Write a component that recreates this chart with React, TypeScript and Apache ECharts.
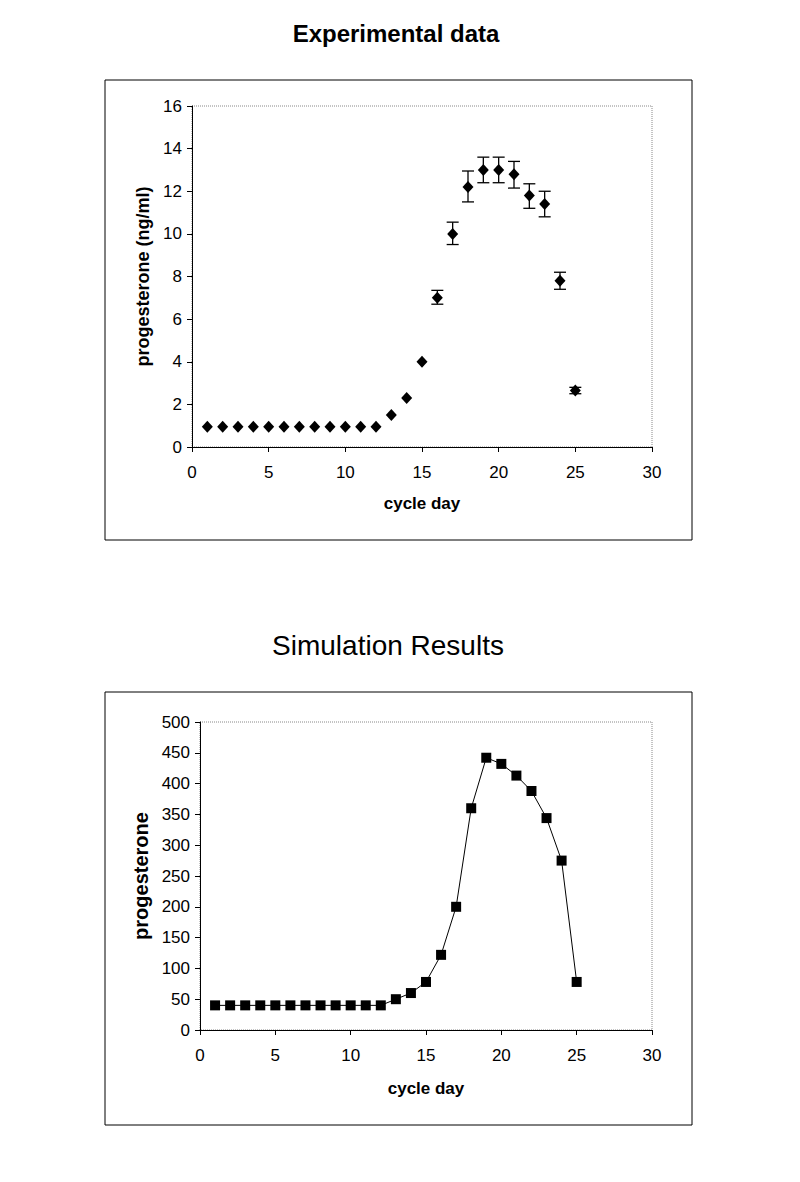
import React, { useEffect, useRef } from "react";
import * as echarts from "echarts";

const days = [1, 2, 3, 4, 5, 6, 7, 8, 9, 10, 11, 12, 13, 14, 15, 16, 17, 18, 19, 20, 21, 22, 23, 24, 25];
const expMean = [0.95, 0.95, 0.95, 0.95, 0.95, 0.95, 0.95, 0.95, 0.95, 0.95, 0.95, 0.95, 1.5, 2.3, 4.0, 7.0, 10.0, 12.2, 13.0, 13.0, 12.8, 11.8, 11.4, 7.8, 2.65];
const errDays = [16, 17, 18, 19, 20, 21, 22, 23, 24, 25];
const errLow = [6.7, 9.5, 11.5, 12.4, 12.4, 12.15, 11.2, 10.8, 7.4, 2.5];
const errHigh = [7.35, 10.55, 12.95, 13.6, 13.6, 13.4, 12.35, 12.0, 8.2, 2.8];
const simValues = [40, 40, 40, 40, 40, 40, 40, 40, 40, 40, 40, 40, 50, 60, 78, 122, 200, 360, 442, 432, 413, 388, 344, 275, 78];

const FONT = "Liberation Sans, Arial, sans-serif";

export default function App() {
  const ref = useRef<HTMLDivElement>(null);
  useEffect(() => {
    if (!ref.current) return;
    const chart = echarts.init(ref.current, undefined, { renderer: "svg" });
    const axisCommon = (nameSize: number, margin: number) => ({
      axisLine: { show: true, lineStyle: { color: "#000", width: 1 } },
      axisTick: { show: true, inside: false, length: 5, lineStyle: { color: "#000" } },
      splitLine: { show: false },
      axisLabel: { color: "#000", fontSize: 17, fontFamily: FONT, margin },
      nameTextStyle: { color: "#000", fontSize: nameSize, fontWeight: "bold", fontFamily: FONT },
    });
    const option: any = {
      animation: false,
      backgroundColor: "#fff",
      title: [
        { text: "Experimental data", left: 391, top: 16, textAlign: "center", textStyle: { fontSize: 24, fontWeight: "bold", color: "#000", fontFamily: FONT } },
        { text: "Simulation Results", left: 383, top: 626, textAlign: "center", textStyle: { fontSize: 28, fontWeight: "normal", color: "#000", fontFamily: FONT } },
      ],
      grid: [
        { left: 192, right: 148, top: 106, height: 341, show: true, borderColor: "#888", borderWidth: 1, borderType: "dotted", backgroundColor: "transparent" },
        { left: 200, right: 148, top: 722, height: 308, show: true, borderColor: "#888", borderWidth: 1, borderType: "dotted", backgroundColor: "transparent" },
      ],
      xAxis: [
        { ...axisCommon(17, 17), type: "value", gridIndex: 0, min: 0, max: 30, interval: 5, name: "cycle day", nameLocation: "middle", nameGap: 48 },
        { ...axisCommon(17, 17), type: "value", gridIndex: 1, min: 0, max: 30, interval: 5, name: "cycle day", nameLocation: "middle", nameGap: 50 },
      ],
      yAxis: [
        { ...axisCommon(18, 10), type: "value", gridIndex: 0, min: 0, max: 16, interval: 2, name: "progesterone (ng/ml)", nameLocation: "middle", nameGap: 38 },
        { ...axisCommon(20, 10), type: "value", gridIndex: 1, min: 0, max: 500, interval: 50, name: "progesterone", nameLocation: "middle", nameGap: 48 },
      ],
      graphic: [
        { type: "rect", shape: { x: 105, y: 80, width: 587, height: 460 }, style: { fill: "none", stroke: "#000", lineWidth: 1 } },
        { type: "rect", shape: { x: 105, y: 692, width: 587, height: 433 }, style: { fill: "none", stroke: "#000", lineWidth: 1 } },
      ],
      series: [
        {
          type: "custom",
          xAxisIndex: 0,
          yAxisIndex: 0,
          data: errDays.map((d, i) => [d, errLow[i], errHigh[i]]),
          renderItem: (params: any, api: any) => {
            const x = api.value(0);
            const lo = api.coord([x, api.value(1)]);
            const hi = api.coord([x, api.value(2)]);
            const hw = 6;
            const style = { stroke: "#000", lineWidth: 1.3 };
            return {
              type: "group",
              children: [
                { type: "line", shape: { x1: lo[0], y1: lo[1], x2: hi[0], y2: hi[1] }, style },
                { type: "line", shape: { x1: lo[0] - hw, y1: lo[1], x2: lo[0] + hw, y2: lo[1] }, style },
                { type: "line", shape: { x1: hi[0] - hw, y1: hi[1], x2: hi[0] + hw, y2: hi[1] }, style },
              ],
            };
          },
          z: 2,
        },
        {
          type: "scatter",
          xAxisIndex: 0,
          yAxisIndex: 0,
          symbol: "diamond",
          symbolSize: [11, 12],
          itemStyle: { color: "#000", opacity: 1 },
          data: days.map((d, i) => [d, expMean[i]]),
          z: 3,
        },
        {
          type: "line",
          xAxisIndex: 1,
          yAxisIndex: 1,
          symbol: "rect",
          symbolSize: 10,
          showAllSymbol: true,
          itemStyle: { color: "#000", opacity: 1 },
          lineStyle: { color: "#000", width: 1 },
          data: days.map((d, i) => [d, simValues[i]]),
        },
      ],
    };
    chart.setOption(option);
    return () => chart.dispose();
  }, []);
  return <div ref={ref} style={{ position: "absolute", left: 0, top: 0, width: 800, height: 1182 }} />;
}
